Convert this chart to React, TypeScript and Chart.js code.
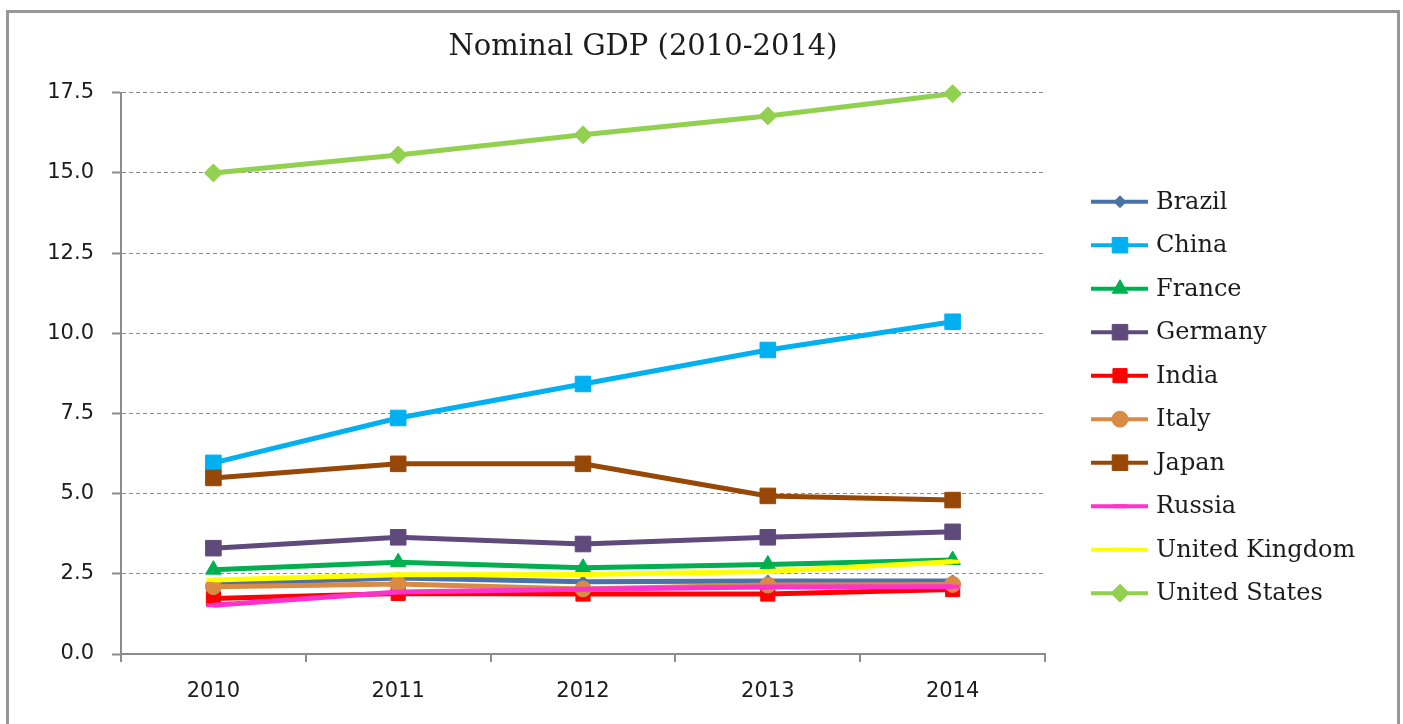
import React, { useEffect, useRef } from "react";
import { Chart, registerables } from "chart.js";
import { drawPoint } from "chart.js/helpers";

Chart.register(...registerables);

const years = ["2010", "2011", "2012", "2013", "2014"];
const seriesNames = ["Brazil", "China", "France", "Germany", "India", "Italy", "Japan", "Russia", "United Kingdom", "United States"];
const brazil = [2.18, 2.37, 2.25, 2.28, 2.28];
const china = [5.96, 7.36, 8.42, 9.48, 10.36];
const france = [2.63, 2.86, 2.69, 2.79, 2.93];
const germany = [3.3, 3.64, 3.43, 3.64, 3.81];
const india = [1.73, 1.89, 1.87, 1.87, 2.01];
const italy = [2.1, 2.18, 2.03, 2.15, 2.17];
const japan = [5.49, 5.93, 5.93, 4.93, 4.8];
const russia = [1.52, 1.93, 2.02, 2.09, 2.1];
const unitedKingdom = [2.31, 2.47, 2.48, 2.57, 2.88];
const unitedStates = [15.0, 15.56, 16.19, 16.78, 17.47];
const yTicks = [0, 2.5, 5, 7.5, 10, 12.5, 15, 17.5];

const seriesValues = [brazil, china, france, germany, india, italy, japan, russia, unitedKingdom, unitedStates];
const seriesColors = ["#4A71A8", "#00B0F0", "#00B050", "#5F4A7B", "#FF0000", "#D98A45", "#974806", "#FF33CC", "#FFFF00", "#92D050"];
const seriesPoints = ["rectRot", "rect", "triangle", "rect", "rect", "circle", "rect", "line", "line", "rectRot"];
const seriesRadius = [6, 11, 9, 11, 10, 8, 11, 7, 7, 9];

const frame = {
  id: "frame",
  beforeDraw(chart: any) {
    const ctx = chart.ctx;
    ctx.save();
    ctx.fillStyle = "#ffffff";
    ctx.fillRect(0, 0, chart.width, chart.height);
    ctx.strokeStyle = "#979797";
    ctx.lineWidth = 3;
    ctx.strokeRect(7.5, 11.5, 1391, 800);
    ctx.restore();
  },
};

const customLegend = {
  id: "customLegend",
  afterDraw(chart: any) {
    const ctx = chart.ctx;
    ctx.save();
    chart.data.datasets.forEach((ds: any, i: number) => {
      const y = 201.7 + i * 43.5;
      ctx.setLineDash([]);
      ctx.strokeStyle = ds.borderColor;
      ctx.lineWidth = 4;
      ctx.beginPath();
      ctx.moveTo(1091, y);
      ctx.lineTo(1148, y);
      ctx.stroke();
      ctx.fillStyle = ds.pointBackgroundColor;
      ctx.strokeStyle = ds.pointBorderColor;
      ctx.lineWidth = ds.pointBorderWidth;
      drawPoint(ctx, { pointStyle: ds.pointStyle, rotation: 0, radius: ds.pointRadius, borderWidth: ds.pointBorderWidth }, 1120, y);
      ctx.fillStyle = "#1c1c1c";
      ctx.font = "24px 'DejaVu Serif'";
      ctx.textBaseline = "middle";
      ctx.textAlign = "left";
      ctx.fillText(ds.label, 1156, y + 1);
    });
    ctx.restore();
  },
};

export default function App() {
  const ref = useRef<HTMLCanvasElement>(null);
  useEffect(() => {
    if (!ref.current) return;
    const n = seriesNames.length;
    const chart = new Chart(ref.current, {
      type: "line",
      data: {
        labels: years,
        datasets: seriesNames.map((name, i) => ({
          label: name,
          data: seriesValues[i],
          borderColor: seriesColors[i],
          backgroundColor: seriesColors[i],
          pointBackgroundColor: seriesColors[i],
          pointBorderColor: seriesColors[i],
          pointBorderWidth: seriesPoints[i] === "line" ? 4 : 1,
          pointStyle: seriesPoints[i],
          pointRadius: seriesRadius[i],
          borderWidth: 5,
          tension: 0,
          fill: false,
          clip: false,
          yAxisID: "y",
          order: n - i,
        })),
      },
      options: {
        responsive: false,
        animation: false,
        layout: { padding: { left: 0, right: 117, top: 0, bottom: 0 } },
        plugins: {
          legend: { display: false },
          tooltip: { enabled: false },
          title: {
            display: true,
            text: "Nominal GDP (2010-2014)",
            color: "#1c1c1c",
            font: { family: "'DejaVu Serif'", size: 29, weight: "normal", lineHeight: 1.2 },
            padding: { top: 30, bottom: 28 },
          },
        },
        scales: {
          x: {
            offset: true,
            grid: { offset: true, drawOnChartArea: false, drawTicks: true, tickLength: 8, color: "#8c8c8c", lineWidth: 2 },
            border: { display: true, color: "#8c8c8c", width: 2 },
            ticks: { color: "#1c1c1c", font: { family: "'DejaVu Sans'", size: 21, lineHeight: 1.2 }, padding: 17, maxRotation: 0 },
            afterFit(scale: any) { scale.height = 70; },
          },
          y: {
            position: "left",
            min: 0,
            max: 17.5,
            afterBuildTicks(scale: any) { scale.ticks = yTicks.map((v) => ({ value: v })); },
            grid: { color: "#8c8c8c", lineWidth: 1, tickLength: 9, tickColor: "#8c8c8c", tickWidth: 2, tickBorderDash: [] },
            border: { display: true, color: "#8c8c8c", width: 2, dash: [4, 3] },
            ticks: { color: "#1c1c1c", font: { family: "'DejaVu Sans'", size: 21 }, padding: 18, callback: (v: any) => Number(v).toFixed(1) },
            afterFit(scale: any) { scale.width = 121; },
          },
          space: {
            type: "linear",
            position: "right",
            display: true,
            grid: { display: false, drawTicks: false },
            border: { display: false },
            ticks: { display: false },
            afterFit(scale: any) { scale.width = 241; },
          },
        },
      } as any,
      plugins: [frame, customLegend],
    });
    return () => chart.destroy();
  }, []);
  return (
    <div style={{ position: "fixed", left: 0, top: 0, width: 1403, height: 724, background: "#fff" }}>
      <canvas ref={ref} width={1403} height={724} style={{ display: "block" }} />
    </div>
  );
}
